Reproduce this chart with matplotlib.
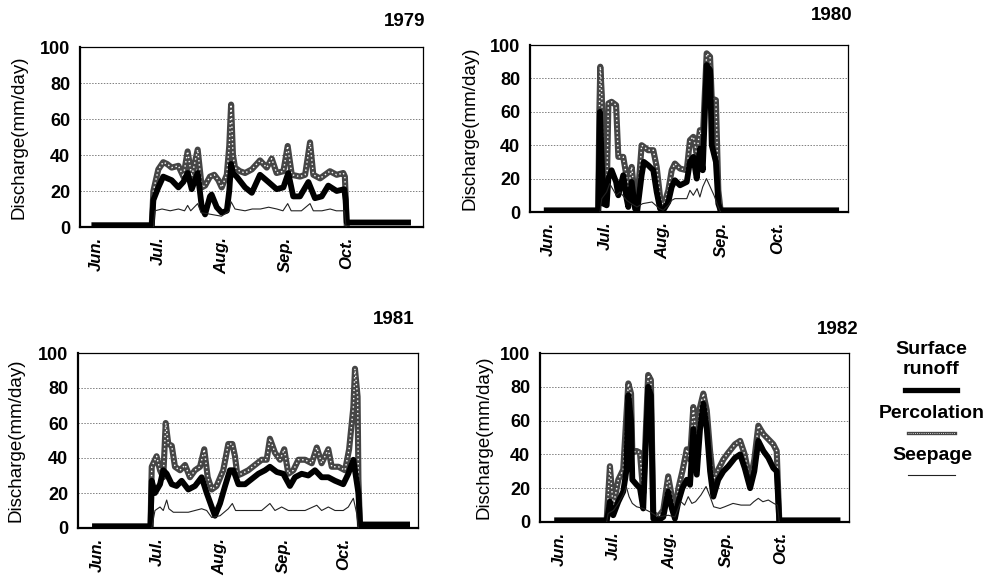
import matplotlib.pyplot as plt
from matplotlib.lines import Line2D

plt.rcParams['font.family'] = 'Liberation Sans'

months = ['Jun.', 'Jul.', 'Aug.', 'Sep.', 'Oct.']
month_days = [0, 30, 61, 92, 122]   # days after 1 June
yticks = [0, 20, 40, 60, 80, 100]
years = ['1979', '1980', '1981', '1982']

# ---- 1979 ----
runoff_1979_day = [-1, 27.0, 27.8, 30.2, 32.6, 36.7, 40.0, 42.4, 44.5, 46.5, 49.4, 51.4, 53.0, 55.4, 56.2,
                   58.7, 61.1, 63.6, 64.8, 65.7, 66.6, 68.4, 72.5, 75.8, 79.8, 83.9, 87.9, 91.2, 93.6,
                   96.0, 99.3, 103.4, 106.6, 109.9, 113.1, 117.2, 120.9, 121.6, 122.1, 152]
runoff_1979_val = [1, 1, 15, 22, 28, 26, 22, 25, 30, 21, 30, 11, 7, 17, 18,
                   11, 8, 9, 20, 35, 30, 28, 22, 19, 29, 25, 21, 22, 30,
                   17, 17, 25, 16, 17, 23, 20, 21, 15, 2.5, 2.5]
perc_1979_day = [27.0, 27.8, 30.2, 32.6, 34.5, 36.7, 40.0, 42.4, 44.5, 46.5, 49.4, 51.4, 53.0, 55.4,
                 57.5, 59.5, 61.1, 63.6, 64.8, 65.7, 66.6, 67.6, 70.0, 72.5, 75.8, 79.8, 83.1, 85.5,
                 87.9, 91.2, 93.3, 95.3, 99.3, 101.8, 104.2, 105.8, 109.1, 113.9, 117.2, 120.4,
                 121.2, 122.1]
perc_1979_val = [1, 20, 32, 36, 35, 33, 34, 28, 42, 28, 43, 22, 23, 28,
                 29, 26, 22, 29, 45, 68, 40, 33, 31, 30, 32, 37, 33, 38,
                 30, 31, 45, 29, 28, 29, 47, 29, 27, 31, 29, 30,
                 28, 1]
seep_1979_day = [27.8, 28.5, 32, 36, 40, 43, 44.5, 46, 49.4, 51, 56, 61, 64.8, 65.7, 67.6, 72.5,
                 76, 80, 84, 88, 91, 93.3, 95, 100, 104.2, 105.8, 110, 114, 117, 121, 121.8]
seep_1979_val = [0, 9, 10, 9, 10, 9, 12, 9, 13, 8, 7, 6, 9, 14, 10, 9,
                 10, 10, 11, 10, 9, 13, 9, 9, 13, 9, 9, 10, 9, 9, 0]

# ---- 1980 ----
runoff_1980_day = [-1, 26.4, 27.3, 28.3, 29.1, 30.9, 31.8, 33.5, 35.9, 37.1, 39.7, 41.5, 42.4, 44.2,
                   46.0, 47.2, 49.5, 50.7, 53.0, 55.7, 57.5, 59.3, 61.0, 63.7, 65.5, 67.2, 69.9,
                   73.5, 75.2, 77.0, 78.8, 80.5, 82.0, 84.1, 85.9, 86.8, 89.0, 90.3, 91.5, 153]
runoff_1980_val = [1, 1, 60, 30, 5, 4, 20, 25, 18, 10, 22, 8, 3, 18,
                   2, 1, 22, 30, 28, 25, 12, 2, 1, 6, 15, 19, 16,
                   18, 30, 33, 20, 38, 25, 88, 85, 40, 30, 5, 1, 1]
perc_1980_day = [26.4, 27.0, 27.5, 28.3, 29.1, 30.9, 31.8, 33.5, 35.9, 37.1, 39.7, 41.5, 42.4, 44.2,
                 46.0, 47.2, 49.5, 50.7, 53.0, 55.7, 57.5, 59.3, 61.0, 63.7, 65.5, 67.2, 69.9,
                 73.5, 75.2, 77.0, 78.8, 80.5, 82.0, 84.1, 85.9, 86.8, 89.0, 90.3, 91.5]
perc_1980_val = [1, 60, 87, 70, 23, 9, 65, 66, 64, 33, 33, 21, 13, 27,
                 7, 5, 40, 39, 37, 37, 27, 9, 3, 13, 25, 29, 26,
                 25, 43, 45, 35, 49, 43, 95, 93, 68, 67, 13, 1]
seep_1980_day = [27.3, 28.3, 30.9, 32.5, 34, 36, 38, 41.5, 44, 47, 50, 55, 59, 61, 63.7, 65.5, 67.2,
                 70, 73.5, 75.2, 77, 79, 80.5, 82, 84, 86, 88, 90.3, 91.5]
seep_1980_val = [0, 8, 12, 17, 14, 10, 12, 7, 5, 3, 5, 6, 2, 1, 4, 7, 8,
                 8, 8, 13, 10, 14, 9, 15, 20, 15, 10, 3, 0]

# ---- 1981 ----
runoff_1981_day = [-1, 26.5, 27.1, 28.7, 31.2, 32.8, 34.5, 37.0, 39.4, 41.9, 45.2, 48.5, 51.8, 54.3,
                   56.8, 58.4, 60.9, 63.4, 65.8, 67.5, 70.0, 73.3, 76.6, 79.9, 83.2, 85.6, 89.0,
                   92.2, 95.5, 98.0, 101.3, 104.6, 107.9, 111.2, 114.5, 117.8, 121.9, 124.4, 126.9,
                   129.4, 130.2, 153.5]
runoff_1981_val = [1, 1, 27, 20, 25, 33, 31, 25, 24, 27, 22, 24, 29, 20,
                   12, 7, 14, 24, 33, 33, 25, 25, 28, 31, 33, 35, 32,
                   31, 24, 29, 31, 30, 33, 29, 29, 27, 25, 31, 39,
                   20, 2, 2]
perc_1981_day = [26.5, 27.1, 29.5, 31.2, 32.8, 34.0, 35.3, 37.0, 38.6, 41.1, 43.6, 46.0, 48.5, 51.0,
                 53.1, 54.8, 56.8, 59.2, 62.5, 65.0, 67.0, 68.3, 69.5, 71.6, 74.9, 78.2, 81.5,
                 84.0, 85.6, 88.1, 90.6, 92.7, 94.7, 97.2, 99.7, 103.0, 106.3, 108.8, 111.2,
                 114.5, 116.2, 119.5, 122.8, 124.8, 126.9, 127.7, 129.0, 129.4, 130.2]
perc_1981_val = [1, 35, 41, 33, 29, 60, 48, 47, 35, 33, 36, 29, 33, 35,
                 45, 29, 22, 24, 33, 48, 48, 41, 30, 31, 33, 36, 39,
                 39, 51, 43, 39, 45, 31, 33, 39, 39, 37, 46, 37,
                 45, 35, 35, 33, 45, 69, 91, 75, 28, 1]
seep_1981_day = [27.1, 28.7, 31.2, 32.8, 34.5, 35.6, 37.8, 45.2, 51.8, 54.3, 56.8, 60.9, 65.0, 67.0,
                 68.6, 74.9, 81.5, 85.6, 88.1, 91.4, 94.7, 103.0, 108.8, 111.2, 114.5, 117.8,
                 121.9, 124.4, 126.9, 128.6, 129.4]
seep_1981_val = [0, 10, 12, 10, 16, 11, 9, 9, 11, 10, 6, 7, 11, 14,
                 10, 10, 10, 14, 10, 12, 10, 10, 13, 10, 12, 10,
                 10, 12, 17, 8, 0]

# ---- 1982 ----
runoff_1982_day = [-1, 26.2, 27.0, 28.0, 29.8, 32.6, 35.3, 37.0, 38.1, 39.6, 40.3, 42.7, 44.5, 46.3,
                   49.0, 50.5, 51.8, 54.6, 57.3, 60.0, 62.0, 63.7, 65.6, 67.8, 70.2, 72.0, 73.8,
                   75.7, 77.5, 79.3, 81.2, 83.0, 84.8, 87.5, 90.3, 93.0, 96.7, 99.5, 102.0, 105.0,
                   107.3, 109.5, 112.3, 115.0, 117.7, 119.6, 121.0, 153]
runoff_1982_val = [1, 1, 5, 12, 4, 12, 18, 30, 75, 60, 25, 22, 20, 8,
                   80, 75, 2, 1, 3, 18, 8, 2, 12, 20, 25, 22, 55,
                   28, 55, 70, 55, 30, 15, 25, 30, 33, 38, 40, 32, 20,
                   30, 48, 42, 38, 32, 30, 1, 1]
perc_1982_day = [26.2, 28.0, 29.8, 32.6, 35.3, 38.1, 39.6, 40.3, 42.7, 44.5, 46.3, 49.0, 50.5, 51.8,
                 54.6, 57.3, 60.0, 62.0, 63.7, 65.6, 67.8, 70.2, 72.0, 73.8, 75.7, 77.5, 79.3,
                 81.2, 83.0, 84.8, 87.5, 90.3, 93.0, 96.7, 99.5, 102.0, 105.0, 107.3, 109.5,
                 112.3, 115.0, 117.7, 119.6, 121.0]
perc_1982_val = [1, 33, 9, 25, 31, 82, 76, 41, 42, 41, 17, 87, 84, 5,
                 3, 7, 27, 15, 5, 20, 30, 43, 37, 68, 45, 68, 76,
                 66, 42, 25, 31, 37, 41, 46, 48, 40, 24, 37, 57,
                 52, 49, 46, 42, 1]
seep_1982_day = [26.2, 27.0, 30.0, 32.6, 35.3, 37.0, 38.5, 40.3, 42.7, 46.3, 50.0, 54.6, 60.0, 63.7,
                 67.0, 69.0, 71.0, 73.0, 75.0, 78.0, 80.8, 83.0, 85.0, 88.5, 91.0, 95.6, 100.0,
                 105.0, 107.0, 109.5, 112.0, 115.0, 118.0, 120.0, 121.0]
seep_1982_val = [0, 5, 7, 11, 16, 21, 15, 11, 9, 8, 6, 3, 4, 3,
                 12, 10, 15, 11, 12, 16, 21, 15, 9, 8, 9, 11, 10,
                 10, 12, 14, 12, 13, 11, 10, 0]

runoff = {'1979': (runoff_1979_day, runoff_1979_val), '1980': (runoff_1980_day, runoff_1980_val),
          '1981': (runoff_1981_day, runoff_1981_val), '1982': (runoff_1982_day, runoff_1982_val)}
perc = {'1979': (perc_1979_day, perc_1979_val), '1980': (perc_1980_day, perc_1980_val),
        '1981': (perc_1981_day, perc_1981_val), '1982': (perc_1982_day, perc_1982_val)}
seep = {'1979': (seep_1979_day, seep_1979_val), '1980': (seep_1980_day, seep_1980_val),
        '1981': (seep_1981_day, seep_1981_val), '1982': (seep_1982_day, seep_1982_val)}

W, H = 991, 578
# axes boxes in pixels (left, top, right, bottom), x limits in days, title / ylabel positions
boxes = {'1979': (80, 47, 423, 227), '1980': (530, 45, 848, 212),
         '1981': (78, 353, 418, 528), '1982': (540, 353, 849, 522)}
xlims = {'1979': (-8, 159.3), '1980': (-9.9, 159.3), '1981': (-9.4, 158.9), '1982': (-10.4, 159.3)}
title_pos = {'1979': (425, 22), '1980': (852, 15), '1981': (415, 320), '1982': (858, 329)}
ylab_x = {'1979': 28, '1980': 478, '1981': 25, '1982': 492}

PERC_COL = '#454545'

fig = plt.figure(figsize=(W / 100, H / 100), dpi=100)

for yr in years:
    l, t, r, b = boxes[yr]
    ax = fig.add_axes([l / W, 1 - b / H, (r - l) / W, (b - t) / H])
    for y in [20, 40, 60, 80]:
        ax.axhline(y, color='#808080', lw=0.7, ls=(0, (1.5, 1.5)), zorder=0)
    d, v = perc[yr]
    ax.plot(d, v, color=PERC_COL, lw=4.4, zorder=2)
    ax.plot(d, v, color='white', lw=1.0, ls=(0, (1, 2.0)), zorder=2.1)
    d, v = runoff[yr]
    ax.plot(d, v, color='black', lw=4.2, zorder=3)
    d, v = seep[yr]
    ax.plot(d, v, color='#222222', lw=0.8, zorder=4)

    ax.set_xlim(*xlims[yr])
    ax.set_ylim(0, 100)
    ax.set_yticks(yticks)
    ax.set_yticklabels([str(y) for y in yticks], fontsize=13, fontweight='bold')
    ax.set_xticks(month_days)
    ax.set_xticklabels(months, rotation=90, fontsize=12, fontweight='bold', fontstyle='italic')
    ax.tick_params(axis='both', length=0, pad=7)
    for s in ['left', 'bottom']:
        ax.spines[s].set_linewidth(1.6)
    for s in ['top', 'right']:
        ax.spines[s].set_linewidth(0.9)
    ax.set_ylabel('Discharge(mm/day)', fontsize=13.5)
    ax.yaxis.set_label_coords((ylab_x[yr] - l) / (r - l), 0.5)

    tx, ty = title_pos[yr]
    fig.text(tx / W, 1 - ty / H, yr, ha='right', va='center', fontsize=13.5, fontweight='bold')


def fx(x):
    return x / W


def fy(y):
    return 1 - y / H


# legend at right of the 1982 panel
fig.text(fx(931), fy(350), 'Surface', ha='center', va='center', fontsize=14, fontweight='bold')
fig.text(fx(931), fy(370), 'runoff', ha='center', va='center', fontsize=14, fontweight='bold')
fig.add_artist(Line2D([fx(905), fx(957)], [fy(390), fy(390)], color='black', lw=3.8,
                      transform=fig.transFigure))
fig.text(fx(932), fy(413), 'Percolation', ha='center', va='center', fontsize=14, fontweight='bold')
fig.add_artist(Line2D([fx(908), fx(955)], [fy(433), fy(433)], color=PERC_COL, lw=2.4,
                      transform=fig.transFigure))
fig.add_artist(Line2D([fx(908), fx(955)], [fy(433), fy(433)], color='white', lw=0.6,
                      ls=(0, (1, 1.6)), transform=fig.transFigure))
fig.text(fx(932), fy(455), 'Seepage', ha='center', va='center', fontsize=14, fontweight='bold')
fig.add_artist(Line2D([fx(908), fx(955)], [fy(475), fy(475)], color='#222222', lw=0.8,
                      transform=fig.transFigure))

fig.savefig('out.png', dpi=100)
